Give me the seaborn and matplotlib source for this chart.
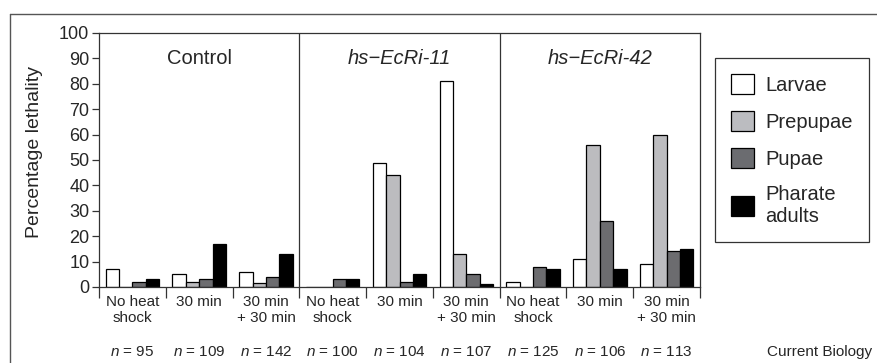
import seaborn as sns
import matplotlib.pyplot as plt
import pandas as pd
from matplotlib.lines import Line2D
from matplotlib.patches import Patch

# data
groups = ["Control", "hs\u2212EcRi-11", "hs\u2212EcRi-42"]
treatments = ["No heat\nshock", "30 min", "30 min\n+ 30 min"]
stages = ["Larvae", "Prepupae", "Pupae", "Pharate\nadults"]
larvae = [7, 5, 6, 0, 49, 81, 2, 11, 9]
prepupae = [0, 2, 1.5, 0, 44, 13, 0, 56, 60]
pupae = [2, 3, 4, 3, 2, 5, 8, 26, 14]
pharate = [3, 17, 13, 3, 5, 1, 7, 7, 15]
n_counts = [95, 109, 142, 100, 104, 107, 125, 106, 113]

stage_colors = ["#ffffff", "#bbbcc0", "#6b6c70", "#000000"]

rows = []
for i in range(9):
    for stage, vals in zip(stages, [larvae, prepupae, pupae, pharate]):
        rows.append({"cond": i, "stage": stage, "value": vals[i]})
df = pd.DataFrame(rows)

sns.set_style("white")
plt.rcParams['font.family'] = ['Liberation Sans', 'DejaVu Sans']
plt.rcParams['mathtext.fontset'] = 'custom'
plt.rcParams['mathtext.it'] = 'Liberation Sans:italic'
plt.rcParams['mathtext.rm'] = 'Liberation Sans'

fig = plt.figure(figsize=(8.77, 3.63), dpi=100)
ax = fig.add_axes([0.1129, 0.2094, 0.6853, 0.6997])

sns.barplot(data=df, x="cond", y="value", hue="stage", hue_order=stages,
            palette=stage_colors, edgecolor="black", linewidth=0.9,
            width=0.8, ax=ax, legend=False)

ax.set_xlim(-0.5, 8.5)
ax.set_ylim(0, 100)
ax.set_yticks(range(0, 101, 10))
ax.tick_params(axis="y", which="major", direction="out", length=5,
               width=0.9, color="#333333", labelsize=13, pad=2, left=True)

# boundaries as major ticks, labels as minor ticks
ax.set_xticks([x - 0.5 for x in range(10)])
ax.set_xticklabels([])
ax.set_xticks(range(9), minor=True)
ax.set_xticklabels(treatments * 3, minor=True, fontsize=11, linespacing=1.15)
ax.tick_params(axis="x", which="major", direction="out", length=8,
               width=0.9, color="#333333", bottom=True)
ax.tick_params(axis="x", which="minor", length=0, pad=6, bottom=True)

for s in ax.spines.values():
    s.set_visible(True)
    s.set_color("#333333")
    s.set_linewidth(0.9)

for xb in [2.5, 5.5]:
    ax.axvline(xb, color="#333333", linewidth=0.9)

ax.set_xlabel("")
ax.set_ylabel("Percentage lethality", fontsize=14)
ax.yaxis.set_label_coords(-0.093, 0.53)

for g, name in enumerate(groups):
    ax.text(g * 3 + 1, 90, name, ha="center", va="center", fontsize=14.5,
            style="normal" if g == 0 else "italic")

for i, n in enumerate(n_counts):
    ax.text(i, -0.256, f"$n$ = {n}", transform=ax.get_xaxis_transform(),
            ha="center", va="center", fontsize=11)

fig.text(0.995, 0.03, "Current Biology", ha="right", va="center", fontsize=11)

handles = [Patch(facecolor=c, edgecolor="black", linewidth=0.9) for c in stage_colors]
leg = fig.legend(handles, stages, loc="upper left",
                 bbox_to_anchor=(0.815, 0.84), fontsize=14.5, frameon=True,
                 fancybox=False, edgecolor="black", handlelength=1.15,
                 handleheight=1.15, labelspacing=0.8, handletextpad=0.55,
                 borderpad=0.8, borderaxespad=0)
leg.get_frame().set_linewidth(0.9)

# outer frame of the figure panel
fig.add_artist(Line2D([10 / 877, 1], [1 - 14 / 363, 1 - 14 / 363],
                      color="#555555", linewidth=1))
fig.add_artist(Line2D([10 / 877, 10 / 877], [0, 1 - 14 / 363],
                      color="#555555", linewidth=1))

fig.savefig("out.png", dpi=100)
